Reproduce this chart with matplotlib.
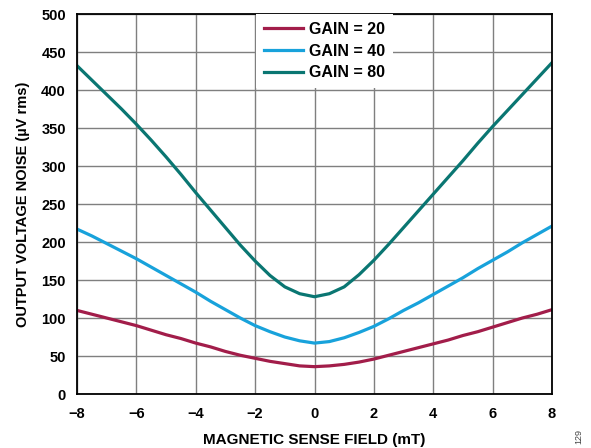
import matplotlib.pyplot as plt

# field values (mT) and noise readings (uV rms) per gain
field = [-8, -7.5, -7, -6.5, -6, -5.5, -5, -4.5, -4, -3.5, -3, -2.5, -2, -1.5, -1, -0.5,
         0, 0.5, 1, 1.5, 2, 2.5, 3, 3.5, 4, 4.5, 5, 5.5, 6, 6.5, 7, 7.5, 8]
gain20 = [110, 105, 100, 95, 90, 84, 78, 73, 67, 62, 56, 51, 47, 43, 40, 37,
          36, 37, 39, 42, 46, 51, 56, 61, 66, 71, 77, 82, 88, 94, 100, 105, 111]
gain40 = [217, 208, 198, 188, 178, 167, 156, 145, 134, 122, 111, 100, 90, 82, 75, 70,
          67, 69, 74, 81, 89, 99, 110, 120, 131, 142, 153, 165, 176, 187, 199, 210, 221]
gain80 = [432, 413, 394, 375, 355, 334, 312, 289, 265, 242, 219, 196, 175, 156, 141, 132,
          128, 132, 141, 157, 176, 197, 219, 241, 263, 285, 307, 330, 352, 373, 394, 415, 436]
labels = ["GAIN = 20", "GAIN = 40", "GAIN = 80"]
colors = ["#A21D4A", "#18A2DB", "#0A7672"]

plt.rcParams['font.family'] = ['Liberation Sans', 'DejaVu Sans']
plt.rcParams['font.weight'] = 'bold'

fig = plt.figure(figsize=(5.91, 4.48), dpi=100)
ax = fig.add_axes([0.1303, 0.1205, 0.8037, 0.8482])

for ys, lab, c in zip([gain20, gain40, gain80], labels, colors):
    ax.plot(field, ys, color=c, lw=2.3, label=lab, solid_joinstyle='round')

ax.set_xlim(-8, 8)
ax.set_ylim(0, 500)
ax.set_xticks(range(-8, 9, 2))
ax.set_yticks(range(0, 501, 50))
ax.grid(True, color="#7f7f7f", lw=1.0)
ax.set_axisbelow(True)
for s in ax.spines.values():
    s.set_linewidth(1.3)
ax.tick_params(length=0, labelsize=10.5)
ax.tick_params(axis='x', pad=9)
ax.tick_params(axis='y', pad=8)
for t in ax.get_xticklabels() + ax.get_yticklabels():
    t.set_fontweight('bold')

ax.set_xlabel("MAGNETIC SENSE FIELD (mT)", fontsize=11, fontweight='bold', labelpad=9)
ax.set_ylabel("OUTPUT VOLTAGE NOISE (µV rms)", fontsize=10.5, fontweight='bold', labelpad=8)

leg = ax.legend(loc='upper left', bbox_to_anchor=(0.377, 1.0), borderaxespad=0,
                frameon=True, fancybox=False, handlelength=2.44, handletextpad=0.38,
                fontsize=11.5, labelspacing=0.42, borderpad=0.5)
leg.get_frame().set_edgecolor('none')
leg.get_frame().set_facecolor('white')
leg.get_frame().set_alpha(1)

fig.text(0.98, 0.025, "129", rotation=90, fontsize=6.5, fontweight='normal',
         color="#444444", ha='center', va='center')

fig.savefig("out.png", dpi=100)
